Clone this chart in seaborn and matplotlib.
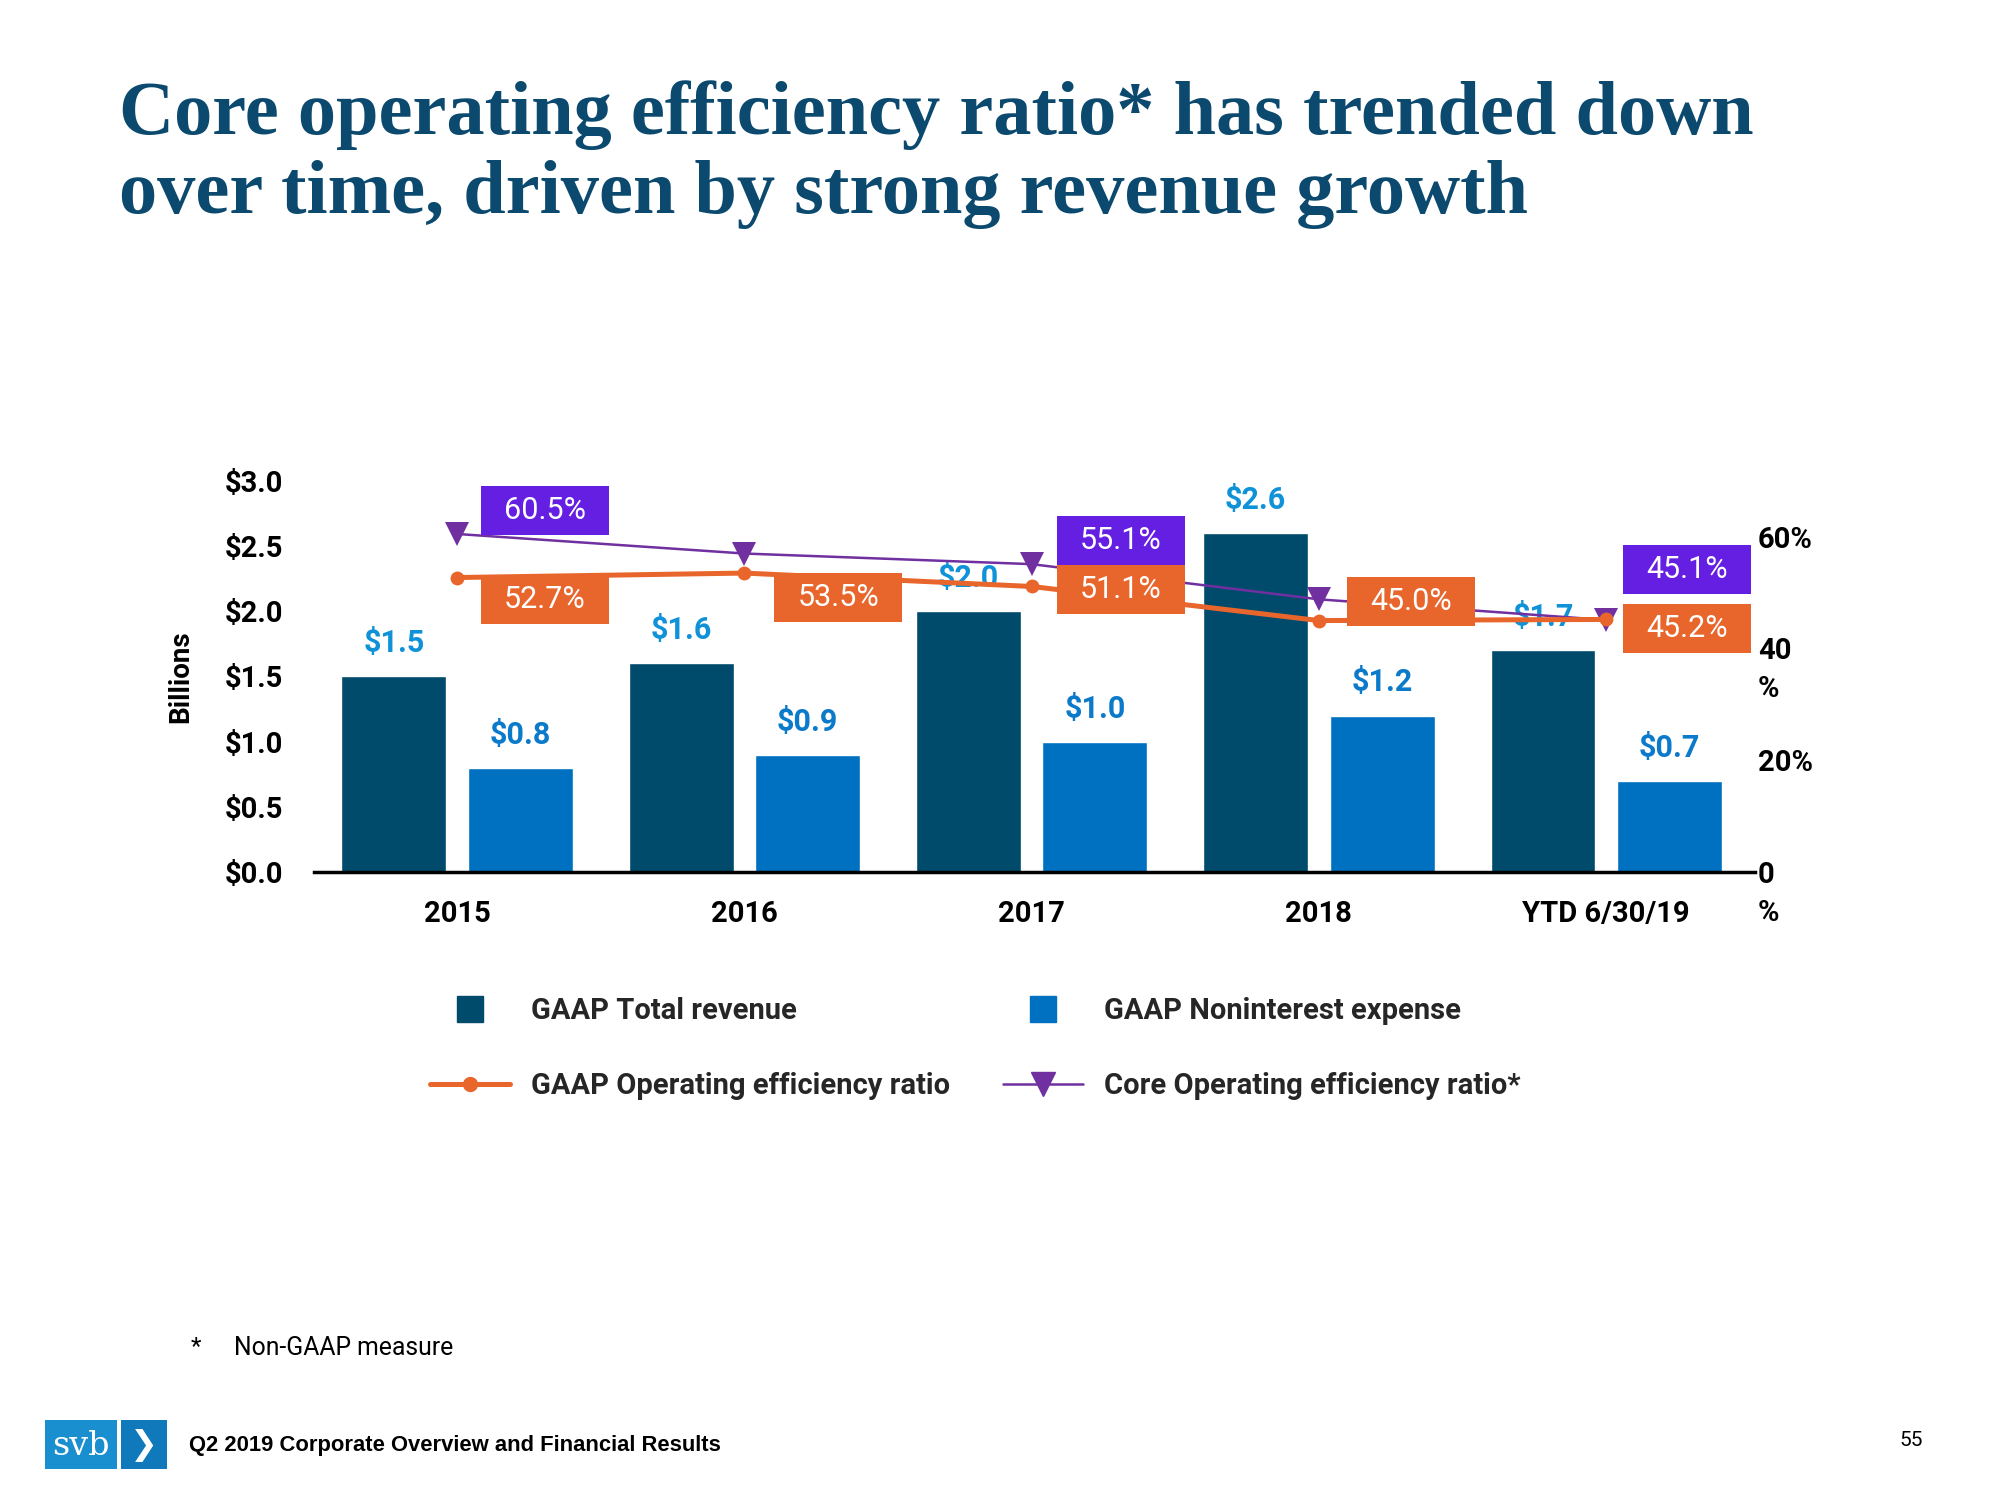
import numpy as np
import pandas as pd
import matplotlib
matplotlib.use("Agg")
import matplotlib.pyplot as plt
import seaborn as sns
from matplotlib.path import Path
from matplotlib.lines import Line2D
from matplotlib.patches import Rectangle

# ---------------- data ----------------
categories = ["2015", "2016", "2017", "2018", "YTD 6/30/19"]
total_revenue = [1.5, 1.6, 2.0, 2.6, 1.7]
nonint_expense = [0.8, 0.9, 1.0, 1.2, 0.7]
gaap_ratio = [52.7, 53.5, 51.1, 45.0, 45.2]
core_ratio = [60.5, 57.0, 55.1, 48.8, 45.1]
core_labeled = [True, False, True, False, True]
left_ticks = [0.0, 0.5, 1.0, 1.5, 2.0, 2.5, 3.0]
right_ticks = [0, 20, 40, 60]
series_names = ["GAAP Total revenue", "GAAP Noninterest expense",
                "GAAP Operating efficiency ratio", "Core Operating efficiency ratio*"]

# ---------------- style ----------------
C_DARK = "#004A6B"
C_LIGHT = "#0070C0"
C_ORANGE = "#E8662C"
C_PURPLE_LINE = "#7030A0"
C_PURPLE_BOX = "#641FE3"
C_REV_LBL = "#1092D8"
C_EXP_LBL = "#0B7ACB"
C_TITLE = "#0B4A6E"

sns.set_theme(style="white")
BODY = ["Roboto", "DejaVu Sans"]
plt.rcParams["font.family"] = BODY

# label offsets (pixels) for the boxed percentage labels
gaap_offsets = [(88, -22), (94, -24), (89, -3), (92, 19), (81, -9)]
core_offsets = [(88, 23), (0, 0), (89, 24), (0, 0), (81, 51)]

fig = plt.figure(figsize=(20, 15), dpi=100)
ax = fig.add_axes([0.157, 0.4187, 0.7205, 0.2607])

df = pd.DataFrame({
    "year": categories * 2,
    "value": total_revenue + nonint_expense,
    "series": [series_names[0]] * 5 + [series_names[1]] * 5,
})
sns.barplot(data=df, x="year", y="value", hue="series", order=categories,
            hue_order=series_names[:2], palette=[C_DARK, C_LIGHT],
            width=0.88, gap=0.17, saturation=1, legend=False, ax=ax, zorder=1)

for cont, vals, col in zip(ax.containers, [total_revenue, nonint_expense], [C_REV_LBL, C_EXP_LBL]):
    ax.bar_label(cont, labels=[f"${v:.1f}" for v in vals], padding=13,
                 fontsize=22, fontweight="bold", color=col)

ax.set_xlim(-0.498, 4.518)
ax.set_ylim(0, 3.0)
ax.set_yticks(left_ticks)
ax.set_yticklabels([f"${t:.1f}" for t in left_ticks], fontsize=21, fontweight="bold", color="black")
ax.tick_params(axis="y", length=0, pad=22)
ax.tick_params(axis="x", length=0, pad=20)
for lbl in ax.get_xticklabels():
    lbl.set_fontsize(21); lbl.set_fontweight("bold"); lbl.set_color("black")
ax.set_xlabel("")
ax.set_ylabel("Billions", fontsize=20, fontweight="bold", color="black")
ax.yaxis.set_label_coords(-0.0833, 0.5)
for s in ["left", "right", "top"]:
    ax.spines[s].set_visible(False)
ax.spines["bottom"].set_color("black")
ax.spines["bottom"].set_linewidth(2.5)

# ---------------- lines ----------------
ax2 = ax.twinx()
xpos = np.arange(len(categories))
ldf = pd.DataFrame({"x": xpos, "gaap": gaap_ratio, "core": core_ratio})
sns.lineplot(data=ldf, x="x", y="core", ax=ax2, color=C_PURPLE_LINE, linewidth=1.8,
             marker="v", markersize=17, markeredgewidth=0, zorder=3)
sns.lineplot(data=ldf, x="x", y="gaap", ax=ax2, color=C_ORANGE, linewidth=3.6,
             marker="o", markersize=10, markeredgewidth=0, zorder=4)
ax2.set_ylim(0, 70)
ax2.set_xlim(-0.498, 4.518)
ax2.set_yticks(right_ticks)
ax2.set_yticklabels(["0", "20%", "40", "60%"], fontsize=21, fontweight="bold", color="black")
ax2.tick_params(axis="y", length=0, pad=2)
ax2.set_ylabel("")
ax2.set_xlabel("")
ax2.grid(False); ax.grid(False)
for s in ["left", "right", "top", "bottom"]:
    ax2.spines[s].set_visible(False)
for t in [0, 40]:
    ax2.annotate("%", xy=(1, t), xycoords=("axes fraction", "data"), xytext=(3, -41),
                 textcoords="offset pixels", ha="left", va="center", fontsize=21,
                 fontweight="bold", color="black", annotation_clip=False)


def fixed_box(x0, y0, width, height, mutation_size):
    cx = x0 + width / 2.0
    cy = y0 + height / 2.0
    W, H = 128, 49
    verts = [(cx - W / 2, cy - H / 2), (cx + W / 2, cy - H / 2), (cx + W / 2, cy + H / 2),
             (cx - W / 2, cy + H / 2), (cx - W / 2, cy - H / 2)]
    return Path(verts, closed=True)


for i, v in enumerate(gaap_ratio):
    ax2.annotate(f"{v:.1f}%", xy=(xpos[i], v), xytext=gaap_offsets[i], textcoords="offset pixels",
                 ha="center", va="center", fontsize=22, color="white", zorder=6,
                 bbox=dict(boxstyle=fixed_box, facecolor=C_ORANGE, edgecolor="none"))
for i, v in enumerate(core_ratio):
    if core_labeled[i]:
        ax2.annotate(f"{v:.1f}%", xy=(xpos[i], v), xytext=core_offsets[i], textcoords="offset pixels",
                     ha="center", va="center", fontsize=22, color="white", zorder=6,
                     bbox=dict(boxstyle=fixed_box, facecolor=C_PURPLE_BOX, edgecolor="none"))

# ---------------- legends ----------------
h_rev = Line2D([], [], marker="s", linestyle="none", markersize=19, color=C_DARK)
h_exp = Line2D([], [], marker="s", linestyle="none", markersize=19, color=C_LIGHT)
h_gaap = Line2D([], [], color=C_ORANGE, linewidth=3.6, marker="o", markersize=10)
h_core = Line2D([], [], color=C_PURPLE_LINE, linewidth=1.8, marker="v", markersize=17)
common = dict(loc="center left", frameon=False, handlelength=2.74, handletextpad=0.72,
              labelspacing=1.62, borderpad=0, borderaxespad=0, numpoints=1,
              prop=dict(family=BODY, weight="bold", size=21))
leg1 = fig.legend([h_rev, h_gaap], series_names[0:1] + series_names[2:3],
                  bbox_to_anchor=(0.215, 0.3010), **common)
leg2 = fig.legend([h_exp, h_core], series_names[1:2] + series_names[3:4],
                  bbox_to_anchor=(0.5015, 0.3010), **common)

# ---------------- title & footer ----------------
fig.text(0.0595, 1 - 80 / 1500, "Core operating efficiency ratio* has trended down\nover time, driven by strong revenue growth",
         ha="left", va="top", fontsize=55, fontweight="bold", color=C_TITLE,
         family=["Liberation Serif", "DejaVu Serif"], linespacing=1.2)

fig.text(191 / 2000, 1 - 1347 / 1500, "*", ha="left", va="center", fontsize=17.5, color="black")
fig.text(234 / 2000, 1 - 1348 / 1500, "Non-GAAP measure", ha="left", va="center", fontsize=17.8, color="black")

fig.patches.append(Rectangle((45 / 2000, 1 - 1469 / 1500), 72 / 2000, 49 / 1500,
                             transform=fig.transFigure, facecolor="#1A8FD0", edgecolor="none"))
fig.patches.append(Rectangle((121 / 2000, 1 - 1469 / 1500), 46 / 2000, 49 / 1500,
                             transform=fig.transFigure, facecolor="#0F79BC", edgecolor="none"))
fig.text(81 / 2000, 1 - 1446 / 1500, "svb", ha="center", va="center", fontsize=24,
         color="white", family=["DejaVu Serif"])
fig.text(144 / 2000, 1 - 1445 / 1500, "\u276F", ha="center", va="center", fontsize=24,
         color="white", family=["DejaVu Sans"])
fig.text(189 / 2000, 1 - 1445 / 1500, "Q2 2019 Corporate Overview and Financial Results",
         ha="left", va="center", fontsize=15.8, fontweight="bold", color="black",
         family=["Liberation Sans", "DejaVu Sans"])
fig.text(1911 / 2000, 1 - 1440 / 1500, "55", ha="center", va="center", fontsize=15, color="black")

fig.savefig("out.png", dpi=100)
